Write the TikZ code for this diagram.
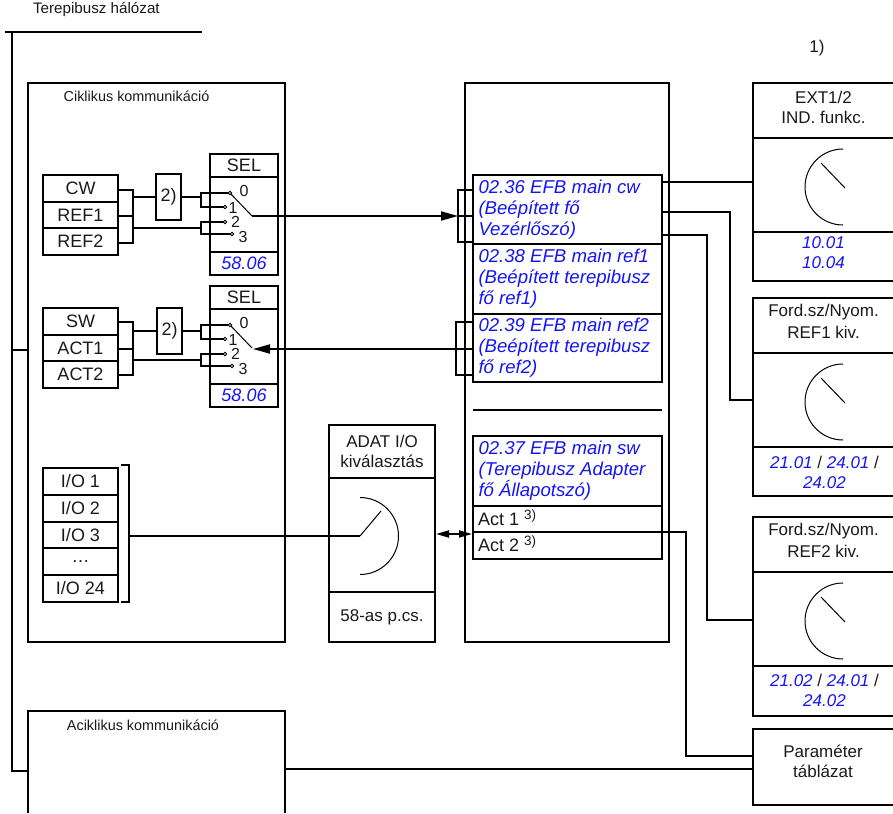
\documentclass[tikz,border=0pt]{standalone}
\usepackage{fontspec}
\setmainfont{Liberation Sans}
\usetikzlibrary{arrows.meta}
\definecolor{parblue}{RGB}{20,20,245}
\newcommand{\parb}[1]{\textcolor{parblue}{\itshape #1}}
\tikzset{
 every node/.style={outer sep=0pt},
 ln/.style={line width=1.8pt,line join=miter},
 frame/.style={draw,line width=1.8pt,inner sep=0pt,anchor=north west},
 thin dial/.style={line width=1pt},
 head/.style={font=\fontsize{14.4}{20}\selectfont,inner sep=0pt,text=black!90,align=center},
 txt/.style={font=\fontsize{17}{20}\selectfont,inner sep=0pt,text=black!90,align=center},
 itx/.style={font=\fontsize{18.6}{21}\selectfont\itshape,text=parblue,inner sep=0pt,align=left,anchor=north west},
 rtx/.style={font=\fontsize{17}{20}\selectfont\itshape,text=parblue,inner sep=0pt,align=center},
 cell/.style={draw,line width=1.8pt,inner sep=0pt,font=\fontsize{18}{20}\selectfont,text=black!90},
 contact/.style={circle,draw,line width=0.8pt,fill=white,inner sep=0pt,minimum size=3.5pt},
 num/.style={font=\fontsize{16}{18}\selectfont,inner sep=0pt,text=black!90},
 tip/.style={-{Triangle[length=17pt,width=9pt]}}
}
\begin{document}
\begin{tikzpicture}[x=1pt,y=-1pt]
\useasboundingbox (0,0) rectangle (893,813);
% field bus
\coordinate (busL) at (5,32); \coordinate (busR) at (202,32);
\coordinate (busT) at (12,32); \coordinate (busA) at (12,350); \coordinate (busB) at (12,771);
\draw[ln] (busL)--(busR);
\draw[ln] (busT)--(busB)--(28,771);
\draw[ln] (busA)--(28,350);
\node[head,anchor=west,font=\fontsize{15.2}{20}\selectfont] (bustxt) at (33,9) {Terepibusz hálózat};
\node[txt] (n1) at (817,48) {1)};
% main frames
\node[frame,minimum width=257pt,minimum height=559pt] (cyc) at (28,83) {};
\node[head] (cyctxt) at (136.5,96) {Ciklikus kommunikáció};
\node[frame,minimum width=204pt,minimum height=559pt] (mainb) at (465,83) {};
\draw[ln] (28,813)--(28,711)--(285,711)--(285,813);
\node[head] (acyctxt) at (143,725) {Aciklikus kommunikáció};
% top input group
\foreach \n/\y/\h/\t in {cw/175/27/CW,refa/202/26/REF1,refb/228/27/REF2,sw/308/27/SW,acta/335/26/ACT1,actb/361/27/ACT2}{
 \node[cell,minimum width=75pt,minimum height=\h pt,anchor=north west] (\n) at (43,\y) {\t};
}
\node[cell,minimum width=25pt,minimum height=46pt,anchor=north west] (twoa) at (156,174) {2)};
\node[cell,minimum width=25pt,minimum height=46pt,anchor=north west] (twob) at (157,308) {2)};
% SEL blocks
\foreach \n/\y in {sa/154,sb/286}{
 \node[cell,minimum width=68pt,minimum height=23pt,anchor=north west] (\n h) at (210,\y) {SEL};
 \node[cell,minimum width=68pt,minimum height=75pt,anchor=north] (\n m) at (\n h.south) {};
 \node[cell,minimum width=68pt,minimum height=23pt,anchor=north] (\n f) at (\n m.south) {\parb{58.06}};
}
\foreach \s/\d in {a/0,b/132}{
 \begin{scope}[yshift=-\d pt]
 \coordinate (in0\s) at (230,193); \coordinate (in1\s) at (225,207);
 \coordinate (in2\s) at (225,222); \coordinate (in3\s) at (232,234);
 \coordinate (pv\s) at (252,216);
 \draw[ln] (in0\s)--(201,193)--(201,207)--(in1\s);
 \draw[ln] (in2\s)--(201,222)--(201,234)--(in3\s);
 \draw[line width=1pt] (in0\s)--(pv\s);
 \node[contact] at (in0\s) {}; \node[contact] at (in1\s) {};
 \node[contact] at (in2\s) {}; \node[contact] at (in3\s) {};
 \node[num] at (244,190.5) {0}; \node[num] at (233,208) {1};
 \node[num] at (235.5,222) {2}; \node[num] at (243,237) {3};
 \end{scope}
}
% wiring left
\draw[ln] (cw.east|-118,190)--(133,190)--(133,243)--(refb.east|-118,243);
\draw[ln] (refa.east|-118,216)--(133,216);
\draw[ln] (133,197)--(twoa.west);
\draw[ln] (twoa.east)--(201,197);
\draw[ln] (133,228)--(201,228);
\draw[ln] (sw.east|-118,322)--(133,322)--(133,375)--(actb.east|-118,375);
\draw[ln] (acta.east|-118,349)--(133,349);
\draw[ln] (133,331)--(twob.west);
\draw[ln] (twob.east)--(201,331);
\draw[ln] (133,360)--(201,360);
% main inner
\node[frame,minimum width=189pt,minimum height=69pt] (ma) at (473,175) {};
\node[frame,minimum width=189pt,minimum height=70pt] (mb) at (473,244) {};
\node[frame,minimum width=189pt,minimum height=68pt] (mc) at (473,314) {};
\node[itx] (ta) at (478.5,180) {02.36 EFB main cw\\(Beépített fő\\Vezérlőszó)};
\node[itx] (tb) at (478.5,249) {02.38 EFB main ref1\\(Beépített terepibusz\\fő ref1)};
\node[itx] (tc) at (478.5,318) {02.39 EFB main ref2\\(Beépített terepibusz\\fő ref2)};
\coordinate (sepa) at (473,410); \coordinate (sepb) at (662,410);
\draw[ln] (sepa)--(sepb);
\node[frame,minimum width=189pt,minimum height=70pt] (md) at (473,436) {};
\node[itx] (td) at (478.5,441) {02.37 EFB main sw\\(Terepibusz Adapter\\fő Állapotszó)};
\node[cell,minimum width=189pt,minimum height=26pt,anchor=north west] (me) at (473,506) {};
\node[cell,minimum width=189pt,minimum height=27pt,anchor=north west] (mf) at (473,532) {};
\node[txt,anchor=west,font=\fontsize{18}{20}\selectfont] (te) at (478,518) {Act 1 \raisebox{6pt}{\fontsize{13.5}{14}\selectfont 3)}};
\node[txt,anchor=west,font=\fontsize{18}{20}\selectfont] (tf) at (478,544) {Act 2 \raisebox{6pt}{\fontsize{13.5}{14}\selectfont 3)}};
% brackets on main
\draw[ln] (473,190)--(458,190)--(458,242)--(473,242);
\draw[ln] (473,322)--(456,322)--(456,375)--(473,375);
\coordinate (arA) at (458,216); \coordinate (arB) at (473,349); \coordinate (arC) at (253,349);
\draw[ln,tip] (pva)--(arA);
\draw[ln] (arA)--(473,216);
\draw[ln,tip] (arB)--(arC);
% IO
\foreach \n/\y/\h/\t in {ioa/468/27/I\slash O 1,iob/495/27/I\slash O 2,ioc/522/26/I\slash O 3,iod/548/27/…,ioe/575/27/I\slash O 24}{
 \node[cell,minimum width=75pt,minimum height=\h pt,anchor=north west] (\n) at (43,\y) {\t};
}
\draw[ln] (121,465)--(129,465)--(129,602)--(121,602);
% ADAT
\node[cell,minimum width=106pt,minimum height=53pt,anchor=north west,align=center,font=\fontsize{17}{20}\selectfont] (adh) at (329,425) {ADAT I/O\\kiválasztás};
\node[cell,minimum width=106pt,minimum height=114pt,anchor=north] (adm) at (adh.south) {};
\node[cell,minimum width=106pt,minimum height=50pt,anchor=north,font=\fontsize{17}{20}\selectfont] (adf) at (adm.south) {58-as p.cs.};
\draw[thin dial] (360,497.5) arc[start angle=-90,end angle=90,radius=38.5];
\coordinate (adc) at (360,536); \coordinate (iost) at (129,536);
\draw[thin dial] (adc)--(381,511);
\draw[ln] (iost)--(adc);
\draw[ln,{Triangle[length=13pt,width=7pt]}-{Triangle[length=13pt,width=7pt]}] (436,534)--(472,534);
% right boxes
\foreach \n/\d/\ta/\tb in {r/0/EXT1\slash 2/IND. funkc.,s/215/Ford.sz\slash Nyom./REF1 kiv.,t/434/Ford.sz\slash Nyom./REF2 kiv.}{
 \begin{scope}[yshift=-\d pt]
 \draw[ln] (893,83)--(753,83)--(753,138)--(893,138);
 \draw[ln] (753,138)--(753,232)--(893,232);
 \node[txt] at (823.5,97) {\ta};
 \node[txt] at (823.5,117) {\tb};
 \draw[thin dial] (843,149) arc[start angle=-90,end angle=-270,radius=38];
 \draw[thin dial] (821,163)--(845,188);
 \end{scope}
}
\draw[ln] (753,232)--(753,281)--(893,281);
\draw[ln] (753,447)--(753,496)--(893,496);
\draw[ln] (753,666)--(753,716)--(893,716);
\node[rtx] at (823.5,253) {10.01\\10.04};
\node[rtx] at (824.5,472) {21.01 \upshape\textcolor{black!90}{/} \itshape 24.01 \upshape\textcolor{black!90}{/}\\\itshape 24.02};
\node[rtx] at (824.5,690) {21.02 \upshape\textcolor{black!90}{/} \itshape 24.01 \upshape\textcolor{black!90}{/}\\\itshape 24.02};
% Param
\draw[ln] (893,729)--(753,729)--(753,805)--(893,805);
\coordinate (pb1) at (753,756); \coordinate (pb2) at (753,769);
\node[txt] (pt) at (823,761.5) {Paraméter\\táblázat};
% right wires
\draw[ln] (662,182)--(753,182);
\draw[ln] (662,212)--(730,212)--(730,400)--(753,400);
\draw[ln] (662,235)--(707,235)--(707,620)--(753,620);
\draw[ln] (662,532)--(686,532)--(686,756)--(pb1);
\draw[ln] (285,769)--(pb2);
\end{tikzpicture}
\end{document}
